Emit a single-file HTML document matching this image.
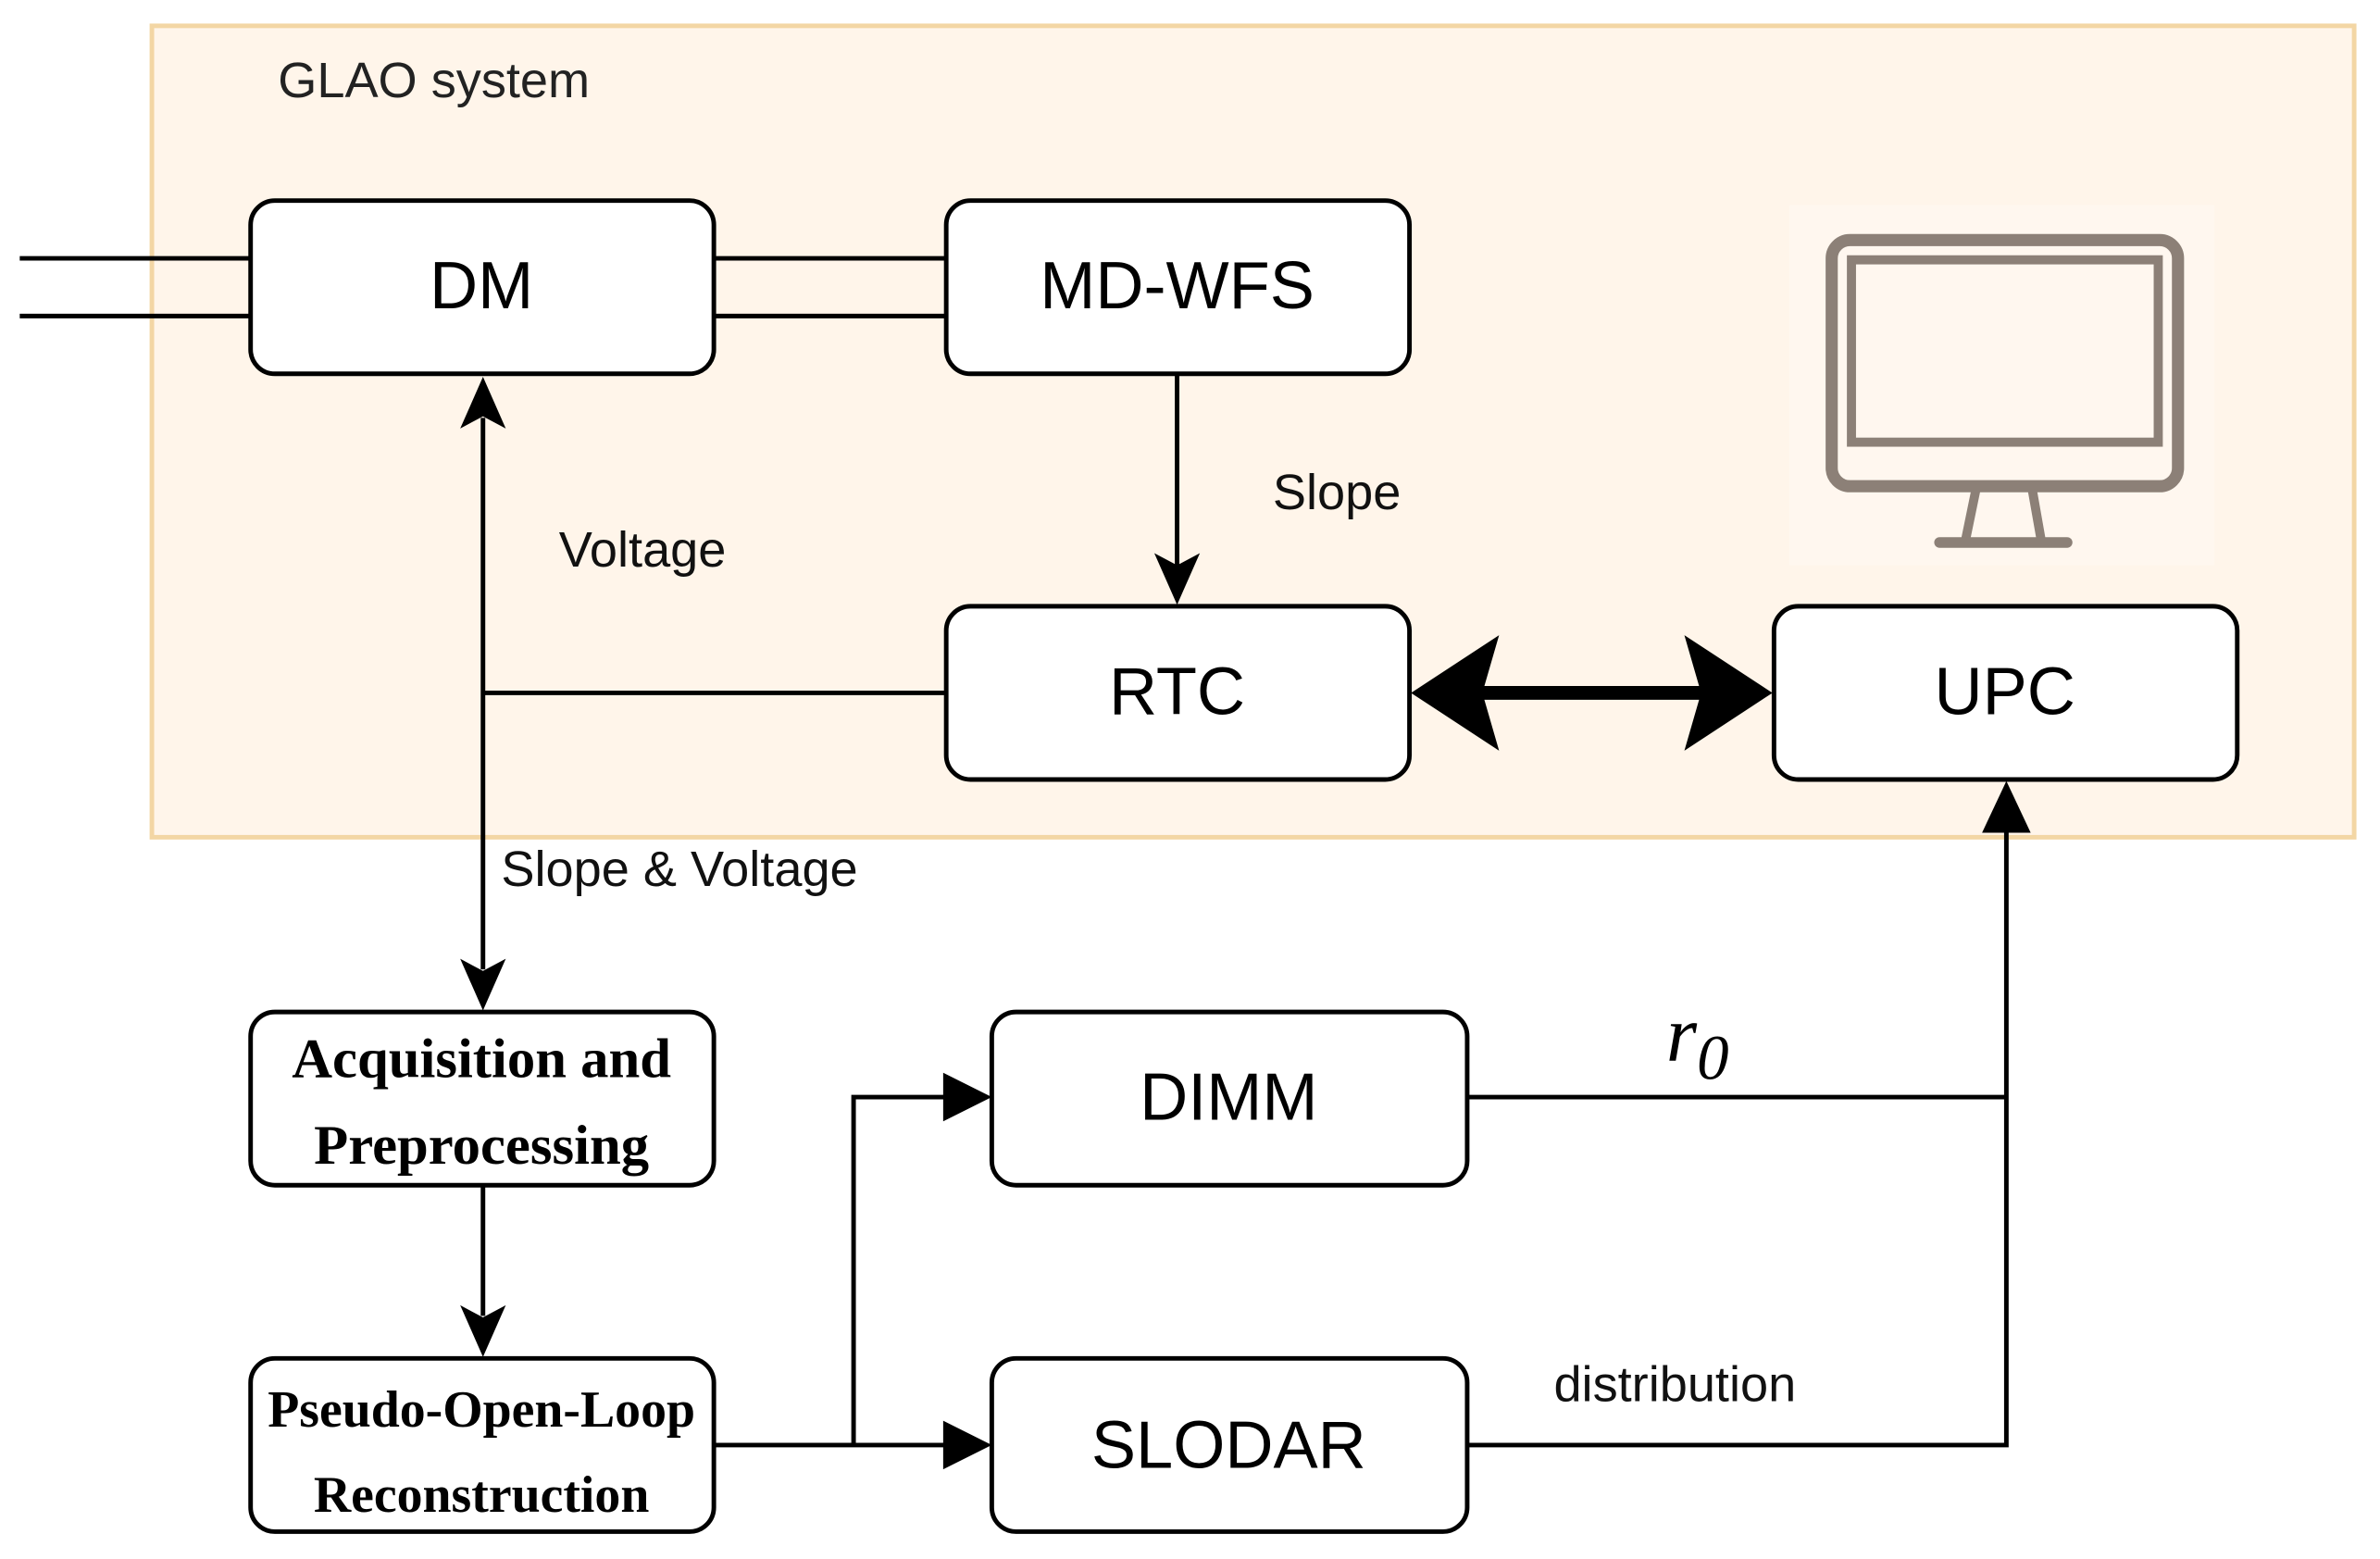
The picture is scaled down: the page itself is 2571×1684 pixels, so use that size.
<!DOCTYPE html>
<html><head><meta charset="utf-8"><style>html,body{margin:0;padding:0;background:#fff}svg{display:block}</style></head>
<body>
<svg width="2571" height="1684" viewBox="0 0 1567 1026" preserveAspectRatio="none" xmlns="http://www.w3.org/2000/svg" font-family="Liberation Sans, sans-serif">
<rect x="100" y="17" width="1450" height="534" fill="#fff5ea" stroke="#f3d6a4" stroke-width="3"/>
<text x="183" y="64" font-size="33" fill="#222">GLAO system</text>
<g stroke="#000" stroke-width="3">
<line x1="13" y1="170" x2="165" y2="170"/><line x1="13" y1="208" x2="165" y2="208"/>
<line x1="470" y1="170" x2="623" y2="170"/><line x1="470" y1="208" x2="623" y2="208"/>
<line x1="775" y1="246" x2="775" y2="372"/>
<line x1="318" y1="275" x2="318" y2="638"/>
<line x1="318" y1="456" x2="623" y2="456"/>
<line x1="318" y1="780" x2="318" y2="866"/>
<line x1="470" y1="951" x2="626" y2="951"/>
<polyline points="562,951 562,722 626,722" fill="none"/>
<polyline points="966,722 1321,722" fill="none"/>
<polyline points="966,951 1321,951 1321,542" fill="none"/>
<line x1="970" y1="456" x2="1126" y2="456" stroke-width="9"/>
</g>
<g fill="#000">
<path d="M775,398 L760,364 L775,372 L790,364Z"/>
<path d="M318,248 L303,282 L318,274 L333,282Z"/>
<path d="M318,665 L303,631 L318,639 L333,631Z"/>
<path d="M318,893 L303,859 L318,867 L333,859Z"/>
<path d="M653,722 L621,706 L621,738Z"/>
<path d="M653,951 L621,935 L621,967Z"/>
<path d="M1321,514 L1305,548 L1337,548Z"/>
<path d="M929,456 L987,418 L976,456 L987,494Z"/>
<path d="M1167,456 L1109,418 L1120,456 L1109,494Z"/>
</g>
<rect x="1178" y="135" width="280" height="237" fill="#fff7ef"/>
<g stroke="#8c8077" fill="none" stroke-linecap="round">
<rect x="1206" y="158" width="228" height="162" rx="12" stroke-width="8"/>
<rect x="1219" y="171" width="202" height="120" stroke-width="6"/>
<line x1="1301" y1="322" x2="1294" y2="356" stroke-width="6"/>
<line x1="1338" y1="322" x2="1344" y2="356" stroke-width="6"/>
<line x1="1277" y1="357" x2="1361" y2="357" stroke-width="7"/>
</g>
<g fill="#fff" stroke="#000" stroke-width="3">
<rect x="165" y="132" width="305" height="114" rx="16"/>
<rect x="623" y="132" width="305" height="114" rx="16"/>
<rect x="623" y="399" width="305" height="114" rx="16"/>
<rect x="1168" y="399" width="305" height="114" rx="16"/>
<rect x="165" y="666" width="305" height="114" rx="16"/>
<rect x="165" y="894" width="305" height="114" rx="16"/>
<rect x="653" y="666" width="313" height="114" rx="16"/>
<rect x="653" y="894" width="313" height="114" rx="16"/>
</g>
<g font-size="44" text-anchor="middle" fill="#000">
<text x="317" y="203">DM</text>
<text x="775" y="203">MD-WFS</text>
<text x="775" y="470">RTC</text>
<text x="1320" y="470">UPC</text>
<text x="809" y="737">DIMM</text>
<text x="809" y="966">SLODAR</text>
</g>
<g font-family="Liberation Serif, serif" font-weight="bold" font-size="37" text-anchor="middle">
<text x="317" y="709">Acquisition and</text>
<text x="317" y="766">Preprocessing</text>
<text x="317" y="939" font-size="34">Pseudo-Open-Loop</text>
<text x="317" y="995" font-size="34">Reconstruction</text>
</g>
<g font-size="33" fill="#111">
<text x="838" y="335">Slope</text>
<text x="368" y="373">Voltage</text>
<text x="330" y="583">Slope &amp; Voltage</text>
<text x="1023" y="922">distribution</text>
</g>
<text x="1097" y="698" font-family="Liberation Serif, serif" font-style="italic" font-size="52">r<tspan font-size="42" dy="12">0</tspan></text>
</svg>
</body></html>
